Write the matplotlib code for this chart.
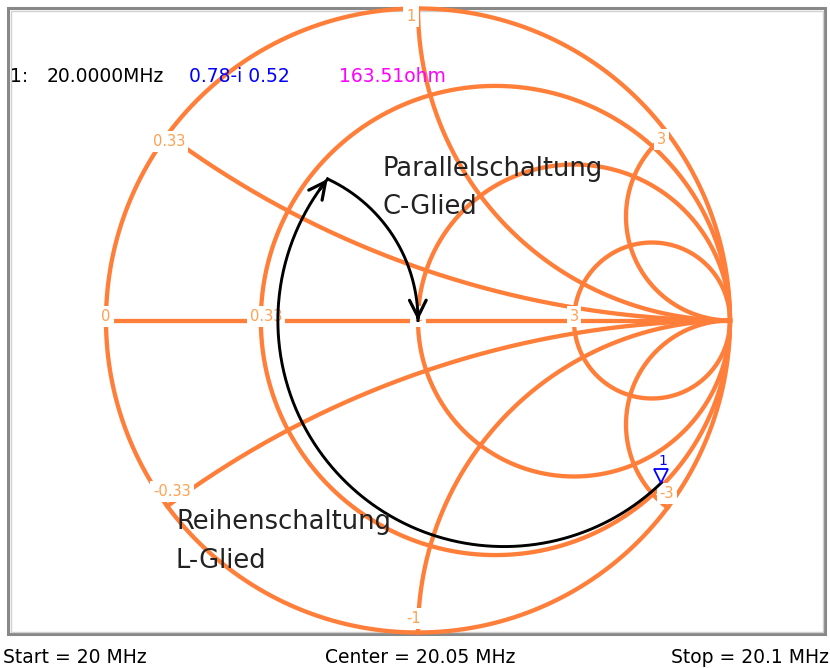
import numpy as np
import matplotlib
matplotlib.use("Agg")
import matplotlib.pyplot as plt
from matplotlib.patches import Rectangle
from matplotlib.transforms import offset_copy

# ---- data ----
r_circles = [0.0, 0.33, 1.0, 3.0]          # constant resistance circles
x_arcs = [0.33, 1.0, 3.0]                  # constant reactance arcs (+/-)
real_labels = ["0", "0.33", "1", "3"]
react_labels = ["0.33", "1", "3"]
marker_gamma = 0.78 - 0.52j                # marker 1 reflection coefficient
marker_freq = "20.0000MHz"
marker_gamma_txt = "0.78-i 0.52"
marker_z_txt = "163.51ohm"
start_txt = "Start = 20 MHz"
center_txt = "Center = 20.05 MHz"
stop_txt = "Stop = 20.1 MHz"

ORANGE = "#ff7f3a"
LABEL = "#ffa050"

# ---- layout: pixel geometry of the chart ----
W, H = 830, 668
CX, CY, R = 418.0, 320.5, 312.0

def px(xp, yp):
    return (xp - CX) / R, (CY - yp) / R

fig = plt.figure(figsize=(W / 100, H / 100), dpi=100)
ax = fig.add_axes([0, 0, 1, 1])
ax.set_xlim(-CX / R, (W - CX) / R)
ax.set_ylim((CY - H) / R, CY / R)
ax.axis("off")

# frame
x0, y0 = px(7.5, 7.5)
x1, y1 = px(825, 634)
ax.add_patch(Rectangle((x0, y1), x1 - x0, y0 - y1, fill=False,
                       ec="#888888", lw=2.2, zorder=0))
xi0, yi0 = px(10.5, 10.5)
xi1, yi1 = px(822.5, 631.5)
ax.add_patch(Rectangle((xi0, yi1), xi1 - xi0, yi0 - yi1, fill=False,
                       ec="#d0d0d0", lw=1.0, zorder=0))

def gamma(z):
    return (z - 1) / (z + 1)

LW = 3.1
# resistance circles
th = np.linspace(0, 2 * np.pi, 800)
for r in r_circles:
    c = r / (1 + r)
    rad = 1 / (1 + r)
    ax.plot(c + rad * np.cos(th), rad * np.sin(th), color=ORANGE, lw=LW,
            solid_capstyle="butt", zorder=2)
# real axis
ax.plot([-1, 1], [0, 0], color=ORANGE, lw=LW, zorder=2)
# reactance arcs
rr = np.concatenate([np.linspace(0, 5, 600), np.logspace(0.7, 4.5, 400)])
for x in x_arcs:
    for s in (1, -1):
        g = gamma(rr + 1j * s * x)
        ax.plot(g.real, g.imag, color=ORANGE, lw=LW, zorder=2)

lab_kw = dict(color=LABEL, fontsize=10.5, ha="center", va="center", zorder=3,
              bbox=dict(boxstyle="square,pad=0.2", fc="white", ec="none"))
# real-axis labels
for r, t in zip(r_circles, real_labels):
    g = gamma(r)
    dx = 5 if t == "0.33" else 0
    ax.annotate(t, (g, 0), xytext=(dx * 0.72, 3), textcoords="offset points", **lab_kw)
# reactance labels on unit circle
for x, t in zip(x_arcs, react_labels):
    for s, tt in ((1, t), (-1, "-" + t)):
        g = gamma(1j * s * x) * 0.965
        if s > 0:
            off = (-7 if x != 3 else 3, 0 if x != 1 else 3)
        else:
            off = (-4 if x != 3 else 8, 8 if x != 1 else 3)
        ax.annotate(tt, (g.real, g.imag), xytext=(off[0] * 0.72, off[1] * 0.72),
                    textcoords="offset points", **lab_kw)

# ---- matching path ----
zm = (1 + marker_gamma) / (1 - marker_gamma)
rm, xm = zm.real, zm.imag
x_int = np.sqrt(rm * (1 - rm))          # intersection with g = 1 circle
xs = np.linspace(xm, x_int, 600)
g1 = gamma(rm + 1j * xs)
ax.plot(g1.real, g1.imag, color="black", lw=2.1, zorder=4)
zi = rm + 1j * x_int
yi = 1 / zi
bs = np.linspace(yi.imag, 0, 400)
g2 = (1 - (1 + 1j * bs)) / (1 + (1 + 1j * bs))
ax.plot(g2.real, g2.imag, color="black", lw=2.1, zorder=4)

arrow = dict(arrowstyle="->,head_length=1.2,head_width=0.6", lw=2.3,
             color="black", shrinkA=0, shrinkB=0)
ax.annotate("", xy=(g1.real[-1], g1.imag[-1]), xytext=(g1.real[-8], g1.imag[-8]),
            arrowprops=arrow, zorder=5)
ax.annotate("", xy=(g2.real[-1], g2.imag[-1]), xytext=(g2.real[-6], g2.imag[-6]),
            arrowprops=arrow, zorder=5)

# marker
tri = offset_copy(ax.transData, fig=fig, x=0, y=7, units="dots")
ax.plot([marker_gamma.real], [marker_gamma.imag], marker="v", ms=10.5,
        mfc="none", mec="blue", mew=1.3, transform=tri, zorder=6)
ax.annotate("1", (marker_gamma.real, marker_gamma.imag), xytext=(1, 16),
            textcoords="offset points", color="blue", fontsize=10,
            ha="center", va="center", zorder=6)

# ---- texts ----
tk = dict(fontsize=13.5, va="baseline", ha="left")
def ftext(xp, yp, s, **kw):
    fig.text(xp / W, 1 - yp / H, s, **kw)

ftext(10, 82, "1:", color="black", **tk)
ftext(47, 82, marker_freq, color="black", **tk)
ftext(189, 82, marker_gamma_txt, color="blue", **tk)
ftext(339, 82, marker_z_txt, color="#ff00ff", **tk)

ftext(3, 663, start_txt, color="black", **tk)
ftext(420, 663, center_txt, color="black", fontsize=13.5, va="baseline", ha="center")
ftext(829, 663, stop_txt, color="black", fontsize=13.5, va="baseline", ha="right")

ak = dict(fontsize=18.5, color="#222222", va="baseline", ha="left")
ftext(382, 176, "Parallelschaltung", **ak)
ftext(382, 214, "C-Glied", **ak)
ftext(176, 529, "Reihenschaltung", **ak)
ftext(175, 568, "L-Glied", **ak)

fig.savefig("out.png", dpi=100)
